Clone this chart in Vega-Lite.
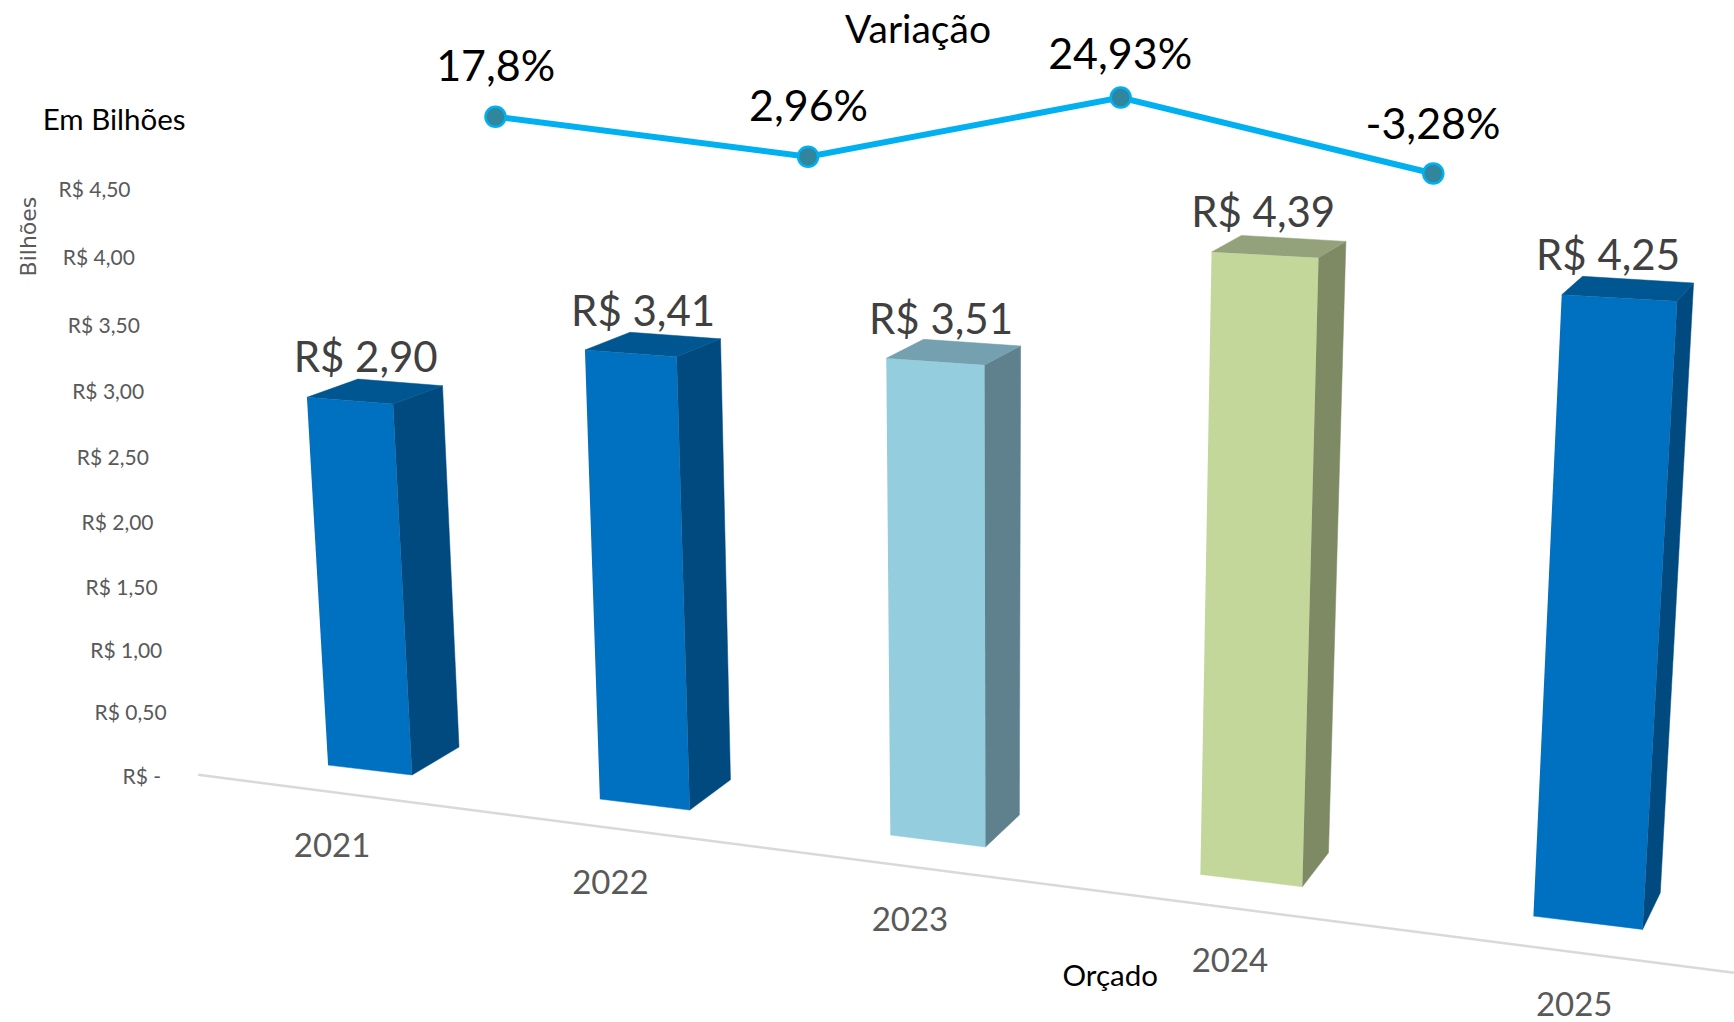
{
"$schema":"https://vega.github.io/schema/vega-lite/v6.json",
"width":1734,"height":1022,"padding":0,
"autosize":{"type":"none"},
"background":"white",
"view":{"stroke":null},
"datasets":{
"faces":[
{"ano":2021,"face":"frente","serie":"Realizado","ordem":1,"x":2020.829,"y":2.904},{"ano":2021,"face":"frente","serie":"Realizado","ordem":2,"x":2021.106,"y":2.853},{"ano":2021,"face":"frente","serie":"Realizado","ordem":3,"x":2021.167,"y":0.008},{"ano":2021,"face":"frente","serie":"Realizado","ordem":4,"x":2020.897,"y":0.084},
{"ano":2021,"face":"lado","serie":"Realizado","ordem":1,"x":2021.106,"y":2.853},{"ano":2021,"face":"lado","serie":"Realizado","ordem":2,"x":2021.265,"y":2.993},{"ano":2021,"face":"lado","serie":"Realizado","ordem":3,"x":2021.318,"y":0.222},{"ano":2021,"face":"lado","serie":"Realizado","ordem":4,"x":2021.167,"y":0.008},
{"ano":2021,"face":"topo","serie":"Realizado","ordem":1,"x":2020.829,"y":2.904},{"ano":2021,"face":"topo","serie":"Realizado","ordem":2,"x":2020.993,"y":3.044},{"ano":2021,"face":"topo","serie":"Realizado","ordem":3,"x":2021.265,"y":2.993},{"ano":2021,"face":"topo","serie":"Realizado","ordem":4,"x":2021.106,"y":2.853},
{"ano":2022,"face":"frente","serie":"Realizado","ordem":1,"x":2021.723,"y":3.267},{"ano":2022,"face":"frente","serie":"Realizado","ordem":2,"x":2022.018,"y":3.215},{"ano":2022,"face":"frente","serie":"Realizado","ordem":3,"x":2022.06,"y":-0.261},{"ano":2022,"face":"frente","serie":"Realizado","ordem":4,"x":2021.771,"y":-0.176},
{"ano":2022,"face":"lado","serie":"Realizado","ordem":1,"x":2022.018,"y":3.215},{"ano":2022,"face":"lado","serie":"Realizado","ordem":2,"x":2022.159,"y":3.353},{"ano":2022,"face":"lado","serie":"Realizado","ordem":3,"x":2022.191,"y":-0.028},{"ano":2022,"face":"lado","serie":"Realizado","ordem":4,"x":2022.06,"y":-0.261},
{"ano":2022,"face":"topo","serie":"Realizado","ordem":1,"x":2021.723,"y":3.267},{"ano":2022,"face":"topo","serie":"Realizado","ordem":2,"x":2021.868,"y":3.403},{"ano":2022,"face":"topo","serie":"Realizado","ordem":3,"x":2022.159,"y":3.353},{"ano":2022,"face":"topo","serie":"Realizado","ordem":4,"x":2022.018,"y":3.215},
{"ano":2023,"face":"frente","serie":"Claro","ordem":1,"x":2022.692,"y":3.203},{"ano":2023,"face":"frente","serie":"Claro","ordem":2,"x":2023.008,"y":3.152},{"ano":2023,"face":"frente","serie":"Claro","ordem":3,"x":2023.011,"y":-0.544},{"ano":2023,"face":"frente","serie":"Claro","ordem":4,"x":2022.705,"y":-0.452},
{"ano":2023,"face":"lado","serie":"Claro","ordem":1,"x":2023.008,"y":3.152},{"ano":2023,"face":"lado","serie":"Claro","ordem":2,"x":2023.124,"y":3.298},{"ano":2023,"face":"lado","serie":"Claro","ordem":3,"x":2023.12,"y":-0.299},{"ano":2023,"face":"lado","serie":"Claro","ordem":4,"x":2023.011,"y":-0.544},
{"ano":2023,"face":"topo","serie":"Claro","ordem":1,"x":2022.692,"y":3.203},{"ano":2023,"face":"topo","serie":"Claro","ordem":2,"x":2022.812,"y":3.349},{"ano":2023,"face":"topo","serie":"Claro","ordem":3,"x":2023.124,"y":3.298},{"ano":2023,"face":"topo","serie":"Claro","ordem":4,"x":2023.008,"y":3.152},
{"ano":2024,"face":"frente","serie":"Verde","ordem":1,"x":2023.738,"y":4.018},{"ano":2024,"face":"frente","serie":"Verde","ordem":2,"x":2024.082,"y":3.975},{"ano":2024,"face":"frente","serie":"Verde","ordem":3,"x":2024.03,"y":-0.849},{"ano":2024,"face":"frente","serie":"Verde","ordem":4,"x":2023.702,"y":-0.754},
{"ano":2024,"face":"lado","serie":"Verde","ordem":1,"x":2024.082,"y":3.975},{"ano":2024,"face":"lado","serie":"Verde","ordem":2,"x":2024.17,"y":4.1},{"ano":2024,"face":"lado","serie":"Verde","ordem":3,"x":2024.114,"y":-0.588},{"ano":2024,"face":"lado","serie":"Verde","ordem":4,"x":2024.03,"y":-0.849},
{"ano":2024,"face":"topo","serie":"Verde","ordem":1,"x":2023.738,"y":4.018},{"ano":2024,"face":"topo","serie":"Verde","ordem":2,"x":2023.834,"y":4.146},{"ano":2024,"face":"topo","serie":"Verde","ordem":3,"x":2024.17,"y":4.1},{"ano":2024,"face":"topo","serie":"Verde","ordem":4,"x":2024.082,"y":3.975},
{"ano":2025,"face":"frente","serie":"Realizado","ordem":1,"x":2024.864,"y":3.691},{"ano":2025,"face":"frente","serie":"Realizado","ordem":2,"x":2025.235,"y":3.64},{"ano":2025,"face":"frente","serie":"Realizado","ordem":3,"x":2025.124,"y":-1.176},{"ano":2025,"face":"frente","serie":"Realizado","ordem":4,"x":2024.773,"y":-1.074},
{"ano":2025,"face":"lado","serie":"Realizado","ordem":1,"x":2025.235,"y":3.64},{"ano":2025,"face":"lado","serie":"Realizado","ordem":2,"x":2025.288,"y":3.781},{"ano":2025,"face":"lado","serie":"Realizado","ordem":3,"x":2025.181,"y":-0.895},{"ano":2025,"face":"lado","serie":"Realizado","ordem":4,"x":2025.124,"y":-1.176},
{"ano":2025,"face":"topo","serie":"Realizado","ordem":1,"x":2024.864,"y":3.691},{"ano":2025,"face":"topo","serie":"Realizado","ordem":2,"x":2024.931,"y":3.832},{"ano":2025,"face":"topo","serie":"Realizado","ordem":3,"x":2025.288,"y":3.781},{"ano":2025,"face":"topo","serie":"Realizado","ordem":4,"x":2025.235,"y":3.64}
],
"base":[{"x":2020.479,"y":0.01},{"x":2025.418,"y":-1.508}],
"variacao":[{"ano":2022,"variacao":17.8},{"ano":2023,"variacao":2.96},{"ano":2024,"variacao":24.93},{"ano":2025,"variacao":-3.28}],
"textos":[
{"grupo":"valor","texto":"R$ 2,90","x":2021.018,"y":3.213},{"grupo":"valor","texto":"R$ 3,41","x":2021.91,"y":3.566},{"grupo":"valor","texto":"R$ 3,51","x":2022.868,"y":3.508},{"grupo":"valor","texto":"R$ 4,39","x":2023.904,"y":4.325},{"grupo":"valor","texto":"R$ 4,25","x":2025.013,"y":3.992},
{"grupo":"ano","texto":"2021","x":2020.91,"y":-0.529},{"grupo":"ano","texto":"2022","x":2021.805,"y":-0.809},{"grupo":"ano","texto":"2023","x":2022.768,"y":-1.097},{"grupo":"ano","texto":"2024","x":2023.797,"y":-1.411},{"grupo":"ano","texto":"2025","x":2024.904,"y":-1.748},
{"grupo":"eixo","texto":"R$ 4,50","x":2020.146,"y":4.494},{"grupo":"eixo","texto":"R$ 4,00","x":2020.16,"y":3.975},{"grupo":"eixo","texto":"R$ 3,50","x":2020.176,"y":3.453},{"grupo":"eixo","texto":"R$ 3,00","x":2020.19,"y":2.947},{"grupo":"eixo","texto":"R$ 2,50","x":2020.205,"y":2.441},{"grupo":"eixo","texto":"R$ 2,00","x":2020.22,"y":1.94},{"grupo":"eixo","texto":"R$ 1,50","x":2020.233,"y":1.442},{"grupo":"eixo","texto":"R$ 1,00","x":2020.248,"y":0.959},{"grupo":"eixo","texto":"R$ 0,50","x":2020.262,"y":0.483},{"grupo":"eixo","texto":"R$ -","x":2020.298,"y":-0.008},
{"grupo":"pct","texto":"17,8%","x":2021.436,"y":5.445},{"grupo":"pct","texto":"2,96%","x":2022.442,"y":5.138},{"grupo":"pct","texto":"24,93%","x":2023.444,"y":5.537},{"grupo":"pct","texto":"-3,28%","x":2024.45,"y":5.0},
{"grupo":"variacao","texto":"Variação","x":2022.794,"y":5.729},
{"grupo":"titulo","texto":"Em Bilhões","x":2020.209,"y":5.031},{"grupo":"titulo","texto":"Orçado","x":2023.412,"y":-1.534},
{"grupo":"vertical","texto":"Bilhões","x":2019.936,"y":4.137}
]
},
"resolve":{"scale":{"x":"independent","y":"independent"}},
"layer":[
{"data":{"name":"base"},"mark":{"type":"line","color":"#d9d9d9","strokeWidth":2.5},
"encoding":{"x":{"field":"x","type":"quantitative","axis":null,"scale":{"domain":[2019.842,2025.418],"nice":false,"zero":false}},"y":{"field":"y","type":"quantitative","axis":null,"scale":{"domain":[-1.886,5.951],"nice":false,"zero":false}}}},
{"data":{"name":"faces"},
"transform":[{"calculate":"datum.serie + ' ' + datum.face","as":"superficie"}],
"mark":{"type":"line","strokeWidth":0.5,"interpolate":"linear"},
"encoding":{
"x":{"field":"x","type":"quantitative","axis":null,"scale":{"domain":[2019.842,2025.418],"nice":false,"zero":false}},
"y":{"field":"y","type":"quantitative","axis":null,"scale":{"domain":[-1.886,5.951],"nice":false,"zero":false}},
"order":{"field":"ordem","type":"quantitative"},
"detail":{"field":"ano"},
"fill":{"field":"superficie","type":"nominal","legend":null,"scale":{"domain":["Realizado frente","Realizado lado","Realizado topo","Claro frente","Claro lado","Claro topo","Verde frente","Verde lado","Verde topo"],"range":["#0070c0","#004a80","#005690","#94cddd","#5e818d","#74a0af","#c4d79b","#7e8a64","#93a27a"]}},
"stroke":{"field":"superficie","type":"nominal","legend":null,"scale":{"domain":["Realizado frente","Realizado lado","Realizado topo","Claro frente","Claro lado","Claro topo","Verde frente","Verde lado","Verde topo"],"range":["#0070c0","#004a80","#005690","#94cddd","#5e818d","#74a0af","#c4d79b","#7e8a64","#93a27a"]}}
}},
{"data":{"name":"variacao"},"mark":{"type":"line","color":"#00b0f0","strokeWidth":6},
"encoding":{"x":{"field":"ano","type":"quantitative","axis":null,"scale":{"domain":[2020.415,2025.962],"nice":false,"zero":false}},"y":{"field":"variacao","type":"quantitative","axis":null,"scale":{"domain":[-318.1,61.11],"nice":false,"zero":false}}}},
{"data":{"name":"variacao"},"mark":{"type":"point","filled":true,"fill":"#31859c","stroke":"#00b0f0","strokeWidth":2.5,"size":400,"opacity":1},
"encoding":{"x":{"field":"ano","type":"quantitative","axis":null,"scale":{"domain":[2020.415,2025.962],"nice":false,"zero":false}},"y":{"field":"variacao","type":"quantitative","axis":null,"scale":{"domain":[-318.1,61.11],"nice":false,"zero":false}}}},
{"data":{"name":"textos"},"transform":[{"filter":"datum.grupo=='valor'"}],"mark":{"type":"text","font":"Lato","fontSize":42,"color":"#404040","baseline":"middle","align":"center","dy":2},
"encoding":{"x":{"field":"x","type":"quantitative","axis":null,"scale":{"domain":[2019.842,2025.418],"nice":false,"zero":false}},"y":{"field":"y","type":"quantitative","axis":null,"scale":{"domain":[-1.886,5.951],"nice":false,"zero":false}},"text":{"field":"texto"}}},
{"data":{"name":"textos"},"transform":[{"filter":"datum.grupo=='ano'"}],"mark":{"type":"text","font":"Lato","fontSize":33,"color":"#595959","baseline":"middle","align":"center","dy":2},
"encoding":{"x":{"field":"x","type":"quantitative","axis":null,"scale":{"domain":[2019.842,2025.418],"nice":false,"zero":false}},"y":{"field":"y","type":"quantitative","axis":null,"scale":{"domain":[-1.886,5.951],"nice":false,"zero":false}},"text":{"field":"texto"}}},
{"data":{"name":"textos"},"transform":[{"filter":"datum.grupo=='eixo'"}],"mark":{"type":"text","font":"Lato","fontSize":21,"color":"#595959","baseline":"middle","align":"center","dy":1},
"encoding":{"x":{"field":"x","type":"quantitative","axis":null,"scale":{"domain":[2019.842,2025.418],"nice":false,"zero":false}},"y":{"field":"y","type":"quantitative","axis":null,"scale":{"domain":[-1.886,5.951],"nice":false,"zero":false}},"text":{"field":"texto"}}},
{"data":{"name":"textos"},"transform":[{"filter":"datum.grupo=='pct'"}],"mark":{"type":"text","font":"Lato","fontSize":43,"color":"#000000","baseline":"middle","align":"center","dy":2},
"encoding":{"x":{"field":"x","type":"quantitative","axis":null,"scale":{"domain":[2019.842,2025.418],"nice":false,"zero":false}},"y":{"field":"y","type":"quantitative","axis":null,"scale":{"domain":[-1.886,5.951],"nice":false,"zero":false}},"text":{"field":"texto"}}},
{"data":{"name":"textos"},"transform":[{"filter":"datum.grupo=='variacao'"}],"mark":{"type":"text","font":"Lato","fontSize":39,"color":"#000000","baseline":"middle","align":"center","dy":2},
"encoding":{"x":{"field":"x","type":"quantitative","axis":null,"scale":{"domain":[2019.842,2025.418],"nice":false,"zero":false}},"y":{"field":"y","type":"quantitative","axis":null,"scale":{"domain":[-1.886,5.951],"nice":false,"zero":false}},"text":{"field":"texto"}}},
{"data":{"name":"textos"},"transform":[{"filter":"datum.grupo=='titulo'"}],"mark":{"type":"text","font":"Lato","fontSize":29.5,"color":"#000000","baseline":"middle","align":"center","dy":1},
"encoding":{"x":{"field":"x","type":"quantitative","axis":null,"scale":{"domain":[2019.842,2025.418],"nice":false,"zero":false}},"y":{"field":"y","type":"quantitative","axis":null,"scale":{"domain":[-1.886,5.951],"nice":false,"zero":false}},"text":{"field":"texto"}}},
{"data":{"name":"textos"},"transform":[{"filter":"datum.grupo=='vertical'"}],"mark":{"type":"text","font":"DejaVu Sans","fontSize":22,"color":"#595959","baseline":"middle","align":"center","angle":270},
"encoding":{"x":{"field":"x","type":"quantitative","axis":null,"scale":{"domain":[2019.842,2025.418],"nice":false,"zero":false}},"y":{"field":"y","type":"quantitative","axis":null,"scale":{"domain":[-1.886,5.951],"nice":false,"zero":false}},"text":{"field":"texto"}}}
]
}
